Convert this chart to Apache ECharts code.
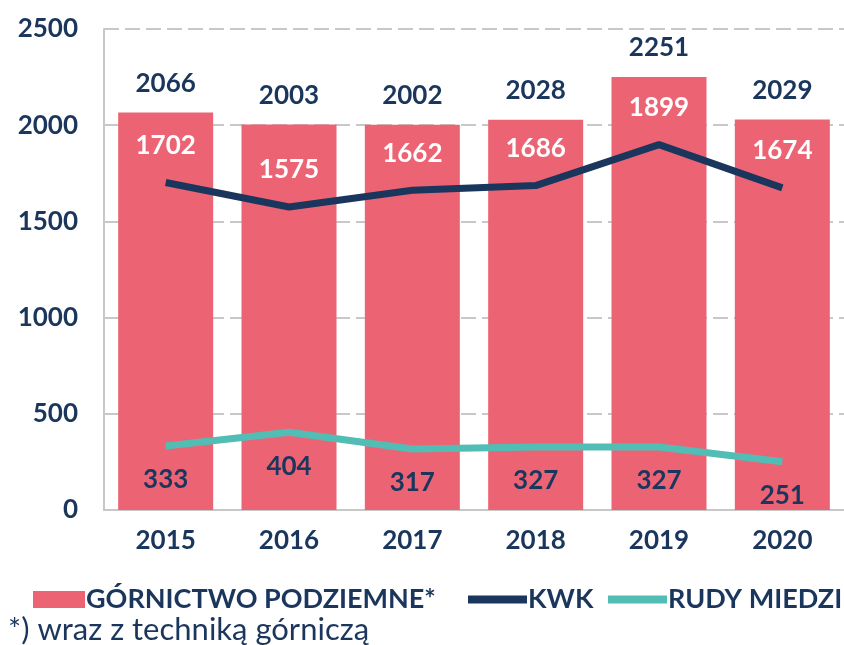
<!DOCTYPE html>
<html>
<head>
<meta charset="utf-8">
<script src="https://cdn.jsdelivr.net/npm/echarts@6/dist/echarts.min.js"></script>
<style>
  html, body { margin: 0; padding: 0; background: #fff; }
  #chart { width: 844px; height: 645px; }
</style>
</head>
<body>
<div id="chart"></div>
<script>
// lata
var years = ['2015', '2016', '2017', '2018', '2019', '2020'];
// górnictwo podziemne (z techniką górniczą)
var gornictwo = [2066, 2003, 2002, 2028, 2251, 2029];
// kopalnie węgla kamiennego
var kwk = [1702, 1575, 1662, 1686, 1899, 1674];
// rudy miedzi
var rudy = [333, 404, 317, 327, 327, 251];
var yTicks = [0, 500, 1000, 1500, 2000, 2500];

var navy = '#1b365d';
var pink = '#ec6474';
var teal = '#52bdb5';
var font = 'Lato';

var myChart = echarts.init(document.getElementById('chart'));

var legendText = { fontFamily: font, fontSize: 27, fontWeight: 'bold', color: navy, padding: [0, 0, 0, -4] };

var option = {
    backgroundColor: '#fff',
    animation: false,
    textStyle: { fontFamily: font, color: navy },
    grid: { left: 104, top: 29, width: 742, bottom: 135, containLabel: false },
    legend: [{
        left: 28, top: 581,
        itemWidth: 52, itemHeight: 17, icon: 'rect',
        textStyle: legendText,
        data: [{ name: 'GÓRNICTWO PODZIEMNE*', itemStyle: { color: pink } }]
    }, {
        left: 463, top: 581,
        itemWidth: 59, itemHeight: 8, icon: 'rect',
        textStyle: legendText,
        data: [{ name: 'KWK', itemStyle: { color: navy } }]
    }, {
        left: 603, top: 581,
        itemWidth: 59, itemHeight: 8, icon: 'rect',
        textStyle: legendText,
        data: [{ name: 'RUDY MIEDZI', itemStyle: { color: teal } }]
    }],
    xAxis: {
        type: 'category',
        data: years,
        axisLine: { lineStyle: { color: '#c8c8c8', width: 2 } },
        axisTick: { show: false },
        axisLabel: { color: navy, fontSize: 26, fontWeight: 'bold', fontFamily: font, margin: 18 }
    },
    yAxis: {
        type: 'value',
        min: yTicks[0], max: yTicks[yTicks.length - 1], interval: 500,
        axisLine: { show: true, lineStyle: { color: '#c8c8c8', width: 2 } },
        axisTick: { show: false },
        axisLabel: {
            color: navy, fontSize: 26, fontWeight: 'bold', fontFamily: font, margin: 26,
            formatter: function (v) { return String(v); }
        },
        splitLine: { lineStyle: { color: '#c8c8c8', width: 2, type: [15, 6] } }
    },
    series: [{
        name: 'GÓRNICTWO PODZIEMNE*',
        type: 'bar',
        data: gornictwo,
        barWidth: 95,
        itemStyle: { color: pink },
        emphasis: { disabled: true },
        label: { show: true, position: 'top', distance: 16, color: navy, fontSize: 26, fontWeight: 'bold', fontFamily: font }
    }, {
        name: 'KWK',
        type: 'line',
        data: kwk,
        symbol: 'circle',
        symbolSize: 0,
        lineStyle: { color: navy, width: 7 },
        itemStyle: { color: navy },
        emphasis: { disabled: true },
        label: { show: true, position: 'top', distance: 24, color: '#fff', fontSize: 26, fontWeight: 'bold', fontFamily: font }
    }, {
        name: 'RUDY MIEDZI',
        type: 'line',
        data: rudy,
        symbol: 'circle',
        symbolSize: 0,
        lineStyle: { color: teal, width: 7 },
        itemStyle: { color: teal },
        emphasis: { disabled: true },
        label: { show: true, position: 'bottom', distance: 21, color: navy, fontSize: 26, fontWeight: 'bold', fontFamily: font }
    }],
    graphic: [{
        type: 'text',
        left: 8, top: 614,
        style: { text: '*) wraz z techniką górniczą', font: '31px Lato', fill: navy }
    }]
};

myChart.setOption(option);
</script>
</body>
</html>
